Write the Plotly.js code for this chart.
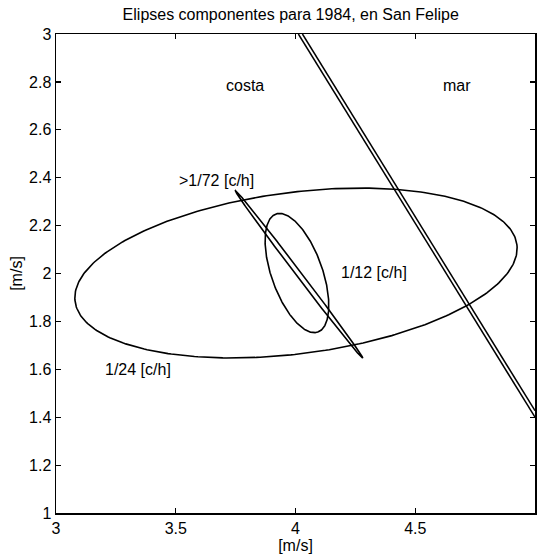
<!DOCTYPE html>
<html>
<head>
<meta charset="utf-8">
<script src="https://cdn.plot.ly/plotly-3.0.1.min.js"></script>
<style>html,body{margin:0;padding:0;background:#fff;}#chart{width:537px;height:559px;}</style>
</head>
<body>
<div id="chart"></div>
<script>
// Ellipse parameters (data units, m/s)
const ellipseNames = ['1/24 [c/h]', '1/12 [c/h]', '>1/72 [c/h]'];
const ellipseCx    = [4.002, 4.006, 4.015];
const ellipseCy    = [2.002, 2.002, 1.996];
const ellipseA     = [0.930, 0.2615, 0.4396];
const ellipseB     = [0.337, 0.1063, 0.011];
const ellipseTheta = [0.1279, -1.2296, -0.9209]; // radians

// Coast line (double line)
const coastX1 = [4.012, 5.0];
const coastY1 = [3.0, 1.400];
const coastX2 = [4.029, 5.0];
const coastY2 = [3.0, 1.427];

// Labels
const labelText = ['costa', 'mar', '>1/72 [c/h]', '1/12 [c/h]', '1/24 [c/h]'];
const labelX    = [3.79, 4.674, 3.672, 4.328, 3.344];
const labelY    = [2.787, 2.787, 2.39, 2.006, 1.601];

const xTicks = [3, 3.5, 4, 4.5, 5];
const xTickText = ['3', '3.5', '4', '4.5', '5'];
const yTicks = [1, 1.2, 1.4, 1.6, 1.8, 2, 2.2, 2.4, 2.6, 2.8, 3];
const yTickText = ['1', '1.2', '1.4', '1.6', '1.8', '2', '2.2', '2.4', '2.6', '2.8', '3'];

const traces = [];
for (let k = 0; k < ellipseNames.length; k++) {
  const xs = [], ys = [];
  const N = 360;
  const c = Math.cos(ellipseTheta[k]), s = Math.sin(ellipseTheta[k]);
  for (let i = 0; i <= N; i++) {
    const t = 2 * Math.PI * i / N;
    const u = ellipseA[k] * Math.cos(t), v = ellipseB[k] * Math.sin(t);
    xs.push(ellipseCx[k] + u * c - v * s);
    ys.push(ellipseCy[k] + u * s + v * c);
  }
  traces.push({x: xs, y: ys, mode: 'lines', name: ellipseNames[k],
    line: {color: '#000', width: 1.6}, hoverinfo: 'skip'});
}
traces.push({x: coastX1, y: coastY1, mode: 'lines', line: {color: '#000', width: 1.5}, hoverinfo: 'skip'});
traces.push({x: coastX2, y: coastY2, mode: 'lines', line: {color: '#000', width: 1.5}, hoverinfo: 'skip'});

const font = {family: '"Liberation Sans", Arial, sans-serif', size: 16, color: '#000'};

const annotations = labelText.map((t, i) => ({
  x: labelX[i], y: labelY[i], xref: 'x', yref: 'y', text: t, showarrow: false,
  font: font, xanchor: 'center', yanchor: 'middle'
}));

const axisCommon = {
  showgrid: false, zeroline: false, showline: true, linecolor: '#000', linewidth: 1.5,
  ticks: 'inside', ticklen: 5, tickcolor: '#000', tickwidth: 1.2, mirror: 'ticks',
  tickfont: font, tickmode: 'array'
};

const layout = {
  width: 537, height: 559,
  margin: {l: 56, r: 2, t: 34, b: 46},
  paper_bgcolor: '#fff', plot_bgcolor: '#fff',
  showlegend: false,
  font: font,
  title: {text: 'Elipses componentes para 1984, en San Felipe', font: font,
    x: 0.49, xref: 'paper', y: 1 - 14 / 559, yref: 'container', xanchor: 'center', yanchor: 'middle'},
  xaxis: Object.assign({}, axisCommon, {range: [3, 5], tickvals: xTicks, ticktext: xTickText,
    title: {text: '[m/s]', font: font, standoff: 2}}),
  yaxis: Object.assign({}, axisCommon, {range: [1, 3], tickvals: yTicks, ticktext: yTickText,
    title: {text: '[m/s]', font: font, standoff: 2}}),
  annotations: annotations
};

Plotly.newPlot('chart', traces, layout, {staticPlot: true, displayModeBar: false});
</script>
</body>
</html>
